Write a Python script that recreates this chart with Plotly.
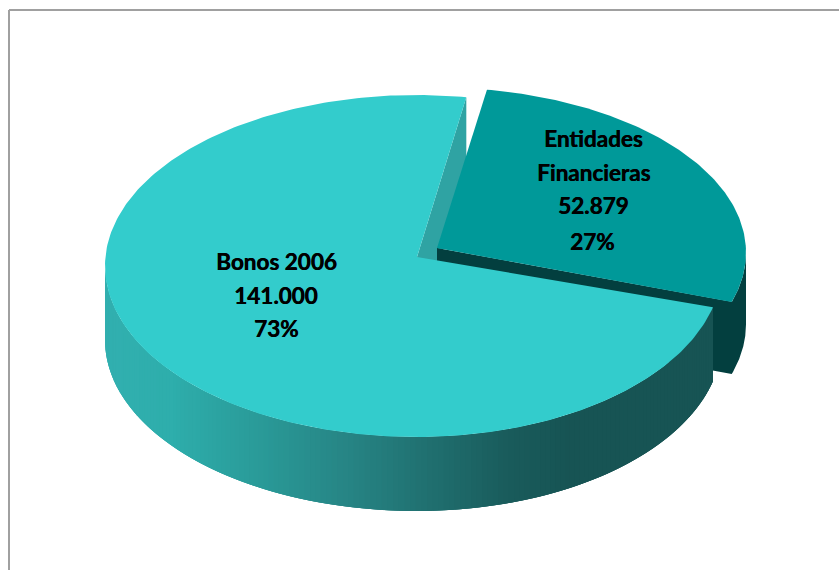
import numpy as np
import plotly.graph_objects as go

# data
categories = ["Bonos 2006", "Entidades Financieras"]
values = [141000, 52879]
value_labels = ["141.000", "52.879"]
percent_labels = ["73%", "27%"]

# colours
top_main = "#33CCCC"
top_slice = "#009999"
wall_main = "#2FA3A3"
wall_slice = "#033F3F"
frame_color = "#A0A0A0"
side_stops_x = [105, 170, 260, 345, 505, 570, 716]
side_stops_rgb = [(50, 176, 176), (46, 174, 172), (42, 154, 152), (39, 133, 133),
                  (26, 92, 92), (23, 84, 84), (23, 84, 84)]

# geometry of the fake 3d pie, in pixels of the 839x570 page
start_deg = 9.3
sweep_deg = 360 * values[1] / sum(values)
end_deg = start_deg + sweep_deg
# the rim of the main pie is a little narrower on the right, the cut lands short of the true angle
main = dict(cx=417, cy=266, rx=312, rx_right=305, ry=171, apex=(417, 257), depth=74)
main_end_deg = end_deg - 3.5
piece = dict(cx=437, cy=252.5, rx=309, rx_right=309, ry=165, apex=(437, 248), depth=72)


def rim(p, deg, drop=0):
    t = np.radians(deg)
    s = np.sin(t)
    return p["cx"] + np.where(s > 0, p["rx_right"], p["rx"]) * s, p["cy"] - p["ry"] * np.cos(t) + drop


def arc(p, a, b, drop=0, n=120):
    return rim(p, np.linspace(a, b, n), drop)


def side_color(x):
    rgb = [np.interp(x, side_stops_x, [s[i] for s in side_stops_rgb]) for i in range(3)]
    return "rgb(%d,%d,%d)" % tuple(rgb)


def poly(fig, xs, ys, color):
    xs, ys = list(xs), list(ys)
    fig.add_trace(go.Scatter(x=xs + xs[:1], y=ys + ys[:1], mode="lines", fill="toself",
                             fillcolor=color, line=dict(color=color, width=0),
                             hoverinfo="skip", showlegend=False))


fig = go.Figure()

# wall of the main pie seen through the gap
cx0, cy0 = rim(main, start_deg)
ax, ay = main["apex"]
poly(fig, [ax, cx0, cx0, ax], [ay, cy0, cy0 + main["depth"], ay + main["depth"]], wall_main)

# walls of the pulled slice, one outline so no seam shows
px_, py_ = piece["apex"]
tx, ty = arc(piece, end_deg, 90)
bx, by = arc(piece, 90, end_deg, piece["depth"])
poly(fig, [px_] + list(tx) + list(bx) + [px_], [py_] + list(ty) + list(by) + [py_ + piece["depth"]], wall_slice)

# outer side of the main pie, thin strips for the gradient, each one runs on
# under the next so no seams show
edges = np.linspace(270, main_end_deg, 160)
for i in range(len(edges) - 1):
    a = edges[i]
    b = edges[min(i + 3, len(edges) - 1)]
    tx, ty = arc(main, a, b, n=6)
    bx, by = arc(main, a, b, main["depth"], n=6)
    poly(fig, list(tx) + list(bx[::-1]), list(ty) + list(by[::-1]), side_color(tx[0]))

# top faces
tx, ty = arc(main, main_end_deg, start_deg + 360, n=300)
poly(fig, [ax] + list(tx), [ay] + list(ty), top_main)
tx, ty = arc(piece, start_deg, end_deg)
poly(fig, [px_] + list(tx), [py_] + list(ty), top_slice)

# labels, one annotation per line as in the picture
label_lines = [
    ("Bonos 2006", 276, 261), (value_labels[0], 276, 295), (percent_labels[0], 276, 328),
    ("Entidades", 593, 138), ("Financieras", 593, 172), (value_labels[1], 593, 205),
    (percent_labels[1], 592, 241),
]
annotations = [dict(x=x, y=y, text="<b>%s</b>" % t, showarrow=False, xanchor="center", yanchor="middle",
                    font=dict(family="Lato", size=22.5, color="black", shadow="0.5px 0 0 black"))
               for t, x, y in label_lines]

# chart frame, open at the right and at the bottom of the crop
shapes = [
    dict(type="line", x0=9, x1=839, y0=10, y1=10, line=dict(color=frame_color, width=2)),
    dict(type="line", x0=9, x1=9, y0=10, y1=570, line=dict(color=frame_color, width=2)),
]

fig.update_layout(
    width=839, height=570, margin=dict(l=0, r=0, t=0, b=0),
    paper_bgcolor="white", plot_bgcolor="white", showlegend=False,
    xaxis=dict(range=[0, 839], visible=False, fixedrange=True),
    yaxis=dict(range=[570, 0], visible=False, fixedrange=True),
    annotations=annotations, shapes=shapes,
)
fig.write_html("out.html", config=dict(displayModeBar=False),
               post_script="document.body.style.margin='0';document.body.style.overflow='hidden';")
